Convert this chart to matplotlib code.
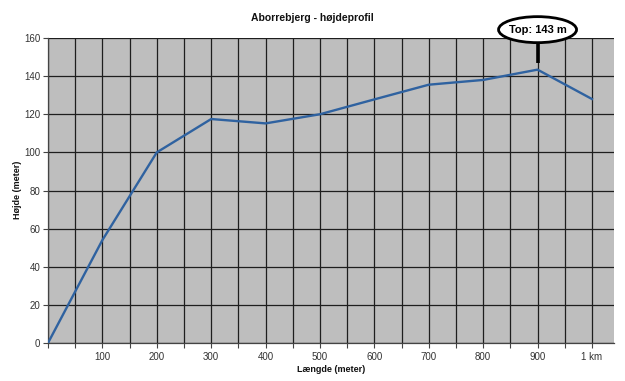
import matplotlib
matplotlib.use("Agg")
import matplotlib.pyplot as plt
from matplotlib.patches import Ellipse
from matplotlib.transforms import ScaledTranslation

distance_m = [0, 100, 200, 300, 400, 500, 600, 700, 800, 900, 1000]
height_m = [0, 54, 100, 117.5, 115.2, 120, 127.8, 135.5, 138, 143.4, 128]
x_tick_pos = [0, 50, 100, 150, 200, 250, 300, 350, 400, 450, 500, 550, 600,
              650, 700, 750, 800, 850, 900, 950, 1000]
x_tick_labels = ["", "", "100", "", "200", "", "300", "", "400", "", "500", "",
                 "600", "", "700", "", "800", "", "900", "", "1 km"]
y_ticks = [0, 20, 40, 60, 80, 100, 120, 140, 160]
peak_label = "Top: 143 m"
peak_x, peak_y = 900, 143.4

plt.rcParams['font.family'] = ['Liberation Sans', 'DejaVu Sans']

fig = plt.figure(figsize=(6.25, 3.81), dpi=100)
ax = fig.add_axes([48/625, 1-343/381, (613.7-48)/625, (343-38)/381])
ax.set_facecolor('#bebebe')

ax.plot(distance_m, height_m, color='#2f62a0', lw=1.7, zorder=3,
        solid_joinstyle='round')

ax.set_xlim(0, 1040)
ax.set_ylim(0, 160)
ax.set_xticks(x_tick_pos)
ax.set_xticklabels(x_tick_labels)
ax.set_yticks(y_ticks)
ax.grid(True, color='#1e1e1e', lw=0.9, zorder=1)
ax.set_axisbelow(True)

for s in ['top', 'right']:
    ax.spines[s].set_visible(False)
for s in ['left', 'bottom']:
    ax.spines[s].set_color('#444444')
    ax.spines[s].set_linewidth(0.9)

ax.tick_params(axis='both', labelsize=7, colors='#444444', labelcolor='#333333',
               length=3.5, width=0.8, direction='out')
ax.tick_params(axis='x', pad=3)
ax.tick_params(axis='y', pad=2)

fig.text(0.5, 1-18/381, "Aborrebjerg - højdeprofil", ha='center', va='center',
         fontsize=7.5, fontweight='bold', color='#111111')
fig.text(18/625, 1-190/381, "Højde (meter)", ha='center', va='center',
         rotation=90, fontsize=6.5, fontweight='bold', color='#111111')
fig.text(331/625, 1-370/381, "Længde (meter)", ha='center', va='center',
         fontsize=6.5, fontweight='bold', color='#111111')

# peak callout anchored at the peak data point
anchor = fig.dpi_scale_trans + ScaledTranslation(peak_x, peak_y, ax.transData)
ax.plot([0, 0], [0.065, 0.27], transform=anchor, color='black', lw=2.6,
        clip_on=False, zorder=4, solid_capstyle='butt')
ell = Ellipse((0, 0.40), 0.78, 0.26, transform=anchor, facecolor='white',
              edgecolor='black', lw=2.0, clip_on=False, zorder=5)
ax.add_artist(ell)
ax.text(0, 0.40, peak_label, transform=anchor, ha='center', va='center',
        fontsize=8, fontweight='bold', color='black', zorder=6)

fig.savefig("out.png", dpi=100)
